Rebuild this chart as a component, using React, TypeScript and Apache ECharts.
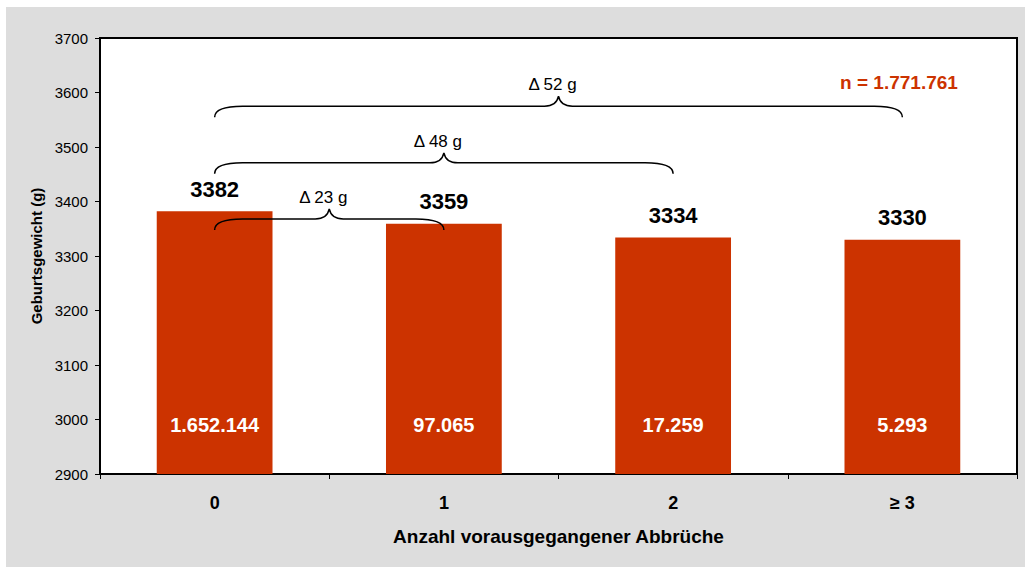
import React, { useEffect, useRef } from "react";
import * as echarts from "echarts";

const categories = ["0", "1", "2", "≥ 3"];
const meanWeights = [3382, 3359, 3334, 3330];
const caseCounts = [1652144, 97065, 17259, 5293];
const yTicks = { min: 2900, max: 3700, interval: 100 };
const braceFrom = [0, 0, 0];
const braceTo = [1, 2, 3];
const braceLevel = [3368, 3471, 3575];
const braceLabels = ["Δ 23 g", "Δ 48 g", "Δ 52 g"];
const xAxisTitle = "Anzahl vorausgegangener Abbrüche";
const yAxisTitle = "Geburtsgewicht (g)";

const FONT = "'Liberation Sans', Arial, sans-serif";
const RED = "#CC3300";

function fmtDE(n: number): string {
  const s = String(Math.round(n));
  return s.replace(/\B(?=(\d{3})+(?!\d))/g, ".");
}

export default function App() {
  const ref = useRef<HTMLDivElement>(null);
  useEffect(() => {
    if (!ref.current) return;
    const chart = echarts.init(ref.current, null, { renderer: "svg" });
    const total = caseCounts.reduce((a, b) => a + b, 0);
    const braceData = braceFrom.map((f, i) => [f, braceTo[i], braceLevel[i], i]);
    const countData = caseCounts.map((c, i) => [i, yTicks.min, c]);

    chart.setOption({
      animation: false,
      textStyle: { fontFamily: FONT },
      graphic: [
        {
          type: "rect",
          z: -10,
          silent: true,
          shape: { x: 6, y: 7, width: 1019, height: 560 },
          style: { fill: "#DDDDDD" },
        },
        {
          type: "text",
          x: 899,
          y: 82,
          style: {
            text: "n = " + fmtDE(total),
            fill: RED,
            font: `bold 19px ${FONT}`,
            align: "center",
            verticalAlign: "middle",
          },
        },
      ],
      grid: {
        left: 100,
        top: 38,
        right: 8,
        bottom: 93,
        show: true,
        backgroundColor: "#FFFFFF",
        borderColor: "#000000",
        borderWidth: 2,
      },
      xAxis: {
        type: "category",
        data: categories,
        boundaryGap: true,
        name: xAxisTitle,
        nameLocation: "middle",
        nameGap: 53,
        nameTextStyle: { fontFamily: FONT, fontSize: 19, fontWeight: "bold", color: "#000" },
        axisLine: { lineStyle: { color: "#000", width: 2 } },
        axisTick: { show: true, length: 5, inside: false, lineStyle: { color: "#000", width: 1 } },
        axisLabel: { margin: 20, fontFamily: FONT, fontSize: 18, fontWeight: "bold", color: "#000" },
        splitLine: { show: false },
      },
      yAxis: {
        type: "value",
        min: yTicks.min,
        max: yTicks.max,
        interval: yTicks.interval,
        name: yAxisTitle,
        nameLocation: "middle",
        nameGap: 55,
        nameTextStyle: { fontFamily: FONT, fontSize: 15, fontWeight: "bold", color: "#000" },
        axisLine: { show: true, lineStyle: { color: "#000", width: 2 } },
        axisTick: { show: true, length: 5, inside: false, lineStyle: { color: "#000", width: 1 } },
        axisLabel: {
          margin: 12,
          fontFamily: FONT,
          fontSize: 15,
          color: "#000",
          formatter: (v: number) => String(v),
        },
        splitLine: { show: false },
      },
      series: [
        {
          type: "bar",
          data: meanWeights,
          barWidth: "50.5%",
          itemStyle: { color: RED },
          label: {
            show: true,
            position: "top",
            distance: 11,
            fontFamily: FONT,
            fontSize: 22,
            fontWeight: "bold",
            color: "#000",
          },
          z: 2,
        },
        {
          type: "custom",
          data: countData,
          z: 5,
          renderItem: (params: any, api: any) => {
            const p = api.coord([api.value(0), api.value(1)]);
            return {
              type: "text",
              style: {
                text: fmtDE(api.value(2)),
                x: p[0],
                y: p[1] - 49,
                align: "center",
                verticalAlign: "middle",
                fill: "#FFFFFF",
                font: `bold 20px ${FONT}`,
              },
            };
          },
        },
        {
          type: "custom",
          data: braceData,
          z: 6,
          renderItem: (params: any, api: any) => {
            const a = api.coord([api.value(0), api.value(2)]);
            const b = api.coord([api.value(1), api.value(2)]);
            const xa = a[0];
            const xb = b[0];
            const yL = a[1];
            const xm = (xa + xb) / 2;
            const h = 11;
            const c = 10;
            const d =
              `M${xa},${yL + h} Q${xa},${yL} ${xa + 28},${yL} ` +
              `L${xm - 14},${yL} Q${xm - 2},${yL} ${xm},${yL - c} ` +
              `Q${xm + 2},${yL} ${xm + 14},${yL} L${xb - 28},${yL} ` +
              `Q${xb},${yL} ${xb},${yL + h}`;
            const idx = api.value(3);
            return {
              type: "group",
              children: [
                {
                  type: "path",
                  shape: { pathData: d },
                  style: { fill: "none", stroke: "#000", lineWidth: 1.5 },
                },
                {
                  type: "text",
                  style: {
                    text: braceLabels[idx],
                    x: xm - 6,
                    y: yL - c - 3,
                    align: "center",
                    verticalAlign: "bottom",
                    fill: "#000",
                    font: `17px ${FONT}`,
                  },
                },
              ],
            };
          },
        },
      ],
    });
    return () => chart.dispose();
  }, []);
  return (
    <div
      ref={ref}
      style={{ position: "absolute", left: 0, top: 0, width: 1025, height: 567 }}
    />
  );
}
